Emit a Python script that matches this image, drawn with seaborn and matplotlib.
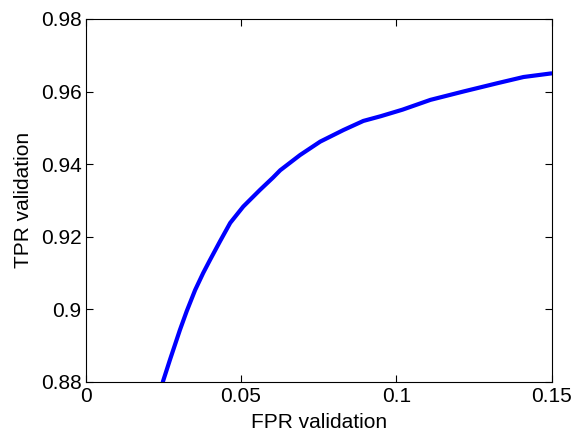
import matplotlib
matplotlib.use("Agg")
import matplotlib.pyplot as plt
import seaborn as sns
import pandas as pd
from matplotlib.ticker import FuncFormatter

fpr = [0.0248, 0.0271, 0.0303, 0.0325, 0.0352, 0.0378, 0.0400, 0.0432, 0.0465,
       0.0507, 0.0561, 0.0603, 0.0626, 0.0690, 0.0755, 0.0830, 0.0894, 0.0950,
       0.1020, 0.1110, 0.1216, 0.1326, 0.1410, 0.1500]
tpr = [0.8800, 0.8861, 0.8943, 0.8995, 0.9053, 0.9100, 0.9136, 0.9187, 0.9238,
       0.9283, 0.9329, 0.9363, 0.9383, 0.9425, 0.9462, 0.9494, 0.9519, 0.9532,
       0.9550, 0.9577, 0.9600, 0.9623, 0.9640, 0.9650]
xticks = [0, 0.05, 0.1, 0.15]
yticks = [0.88, 0.9, 0.92, 0.94, 0.96, 0.98]

sns.set_style("ticks")
plt.rcParams['font.family'] = ['Liberation Sans', 'DejaVu Sans']
plt.rcParams['xtick.direction'] = 'in'
plt.rcParams['ytick.direction'] = 'in'
plt.rcParams['text.color'] = 'black'
plt.rcParams['axes.labelcolor'] = 'black'
plt.rcParams['xtick.color'] = 'black'
plt.rcParams['ytick.color'] = 'black'

df = pd.DataFrame({"FPR": fpr, "TPR": tpr})
fig = plt.figure(figsize=(5.76, 4.4), dpi=100)
ax = fig.add_axes([0.149, 0.132, 0.8085, 0.825])
sns.lineplot(data=df, x="FPR", y="TPR", sort=False, color="#0000ff", linewidth=3.0, ax=ax)
ax.set_xlim(0, 0.15)
ax.set_ylim(0.88, 0.98)
ax.set_xticks(xticks)
ax.set_yticks(yticks)
fmt = FuncFormatter(lambda v, p: f"{v:g}")
ax.xaxis.set_major_formatter(fmt)
ax.yaxis.set_major_formatter(fmt)
ax.tick_params(labelsize=15, length=5, width=0.8, top=True, right=True,
               color="black", labelcolor="black")
ax.tick_params(axis="x", pad=4)
ax.tick_params(axis="y", pad=3)
for s in ax.spines.values():
    s.set_visible(True)
    s.set_linewidth(0.8)
    s.set_color("black")
ax.set_xlabel("FPR validation", fontsize=15, labelpad=5)
ax.set_ylabel("TPR validation", fontsize=15, labelpad=6)
fig.savefig("out.png", dpi=100)
